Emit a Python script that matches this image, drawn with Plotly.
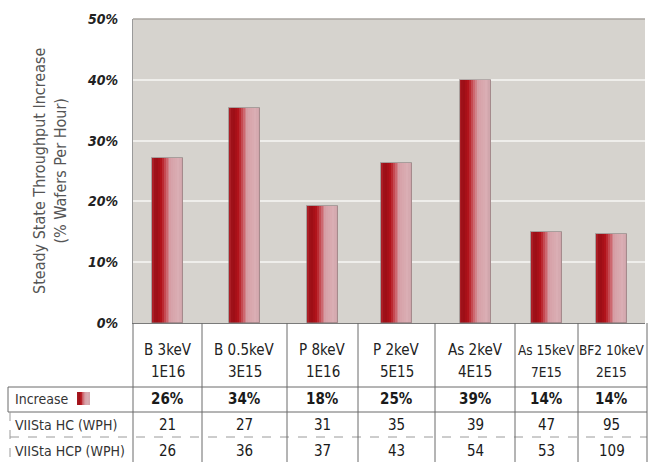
import plotly.graph_objects as go

# ---------------- data ----------------
cat_line1 = ["B 3keV", "B 0.5keV", "P 8keV", "P 2keV", "As 2keV", "As 15keV", "BF2 10keV"]
cat_line2 = ["1E16", "3E15", "1E16", "5E15", "4E15", "7E15", "2E15"]
bar_values = [27.1, 35.3, 19.3, 26.3, 39.9, 15.0, 14.6]
increase_labels = ["26%", "34%", "18%", "25%", "39%", "14%", "14%"]
hc_wph = [21, 27, 31, 35, 39, 47, 95]
hcp_wph = [26, 36, 37, 43, 54, 53, 109]
y_ticks = [0, 10, 20, 30, 40, 50]
y_tick_labels = ["0%", "10%", "20%", "30%", "40%", "50%"]
row_labels = ["Increase", "VIISta HC (WPH)", "VIISta HCP (WPH)"]

# ---------------- layout constants ----------------
W, H = 650, 462
L, R, T, B = 133, 5, 19, 139
PW = W - L - R
PH = H - T - B
col_widths = [69, 85, 71, 77, 80, 63, 67]
header_sizes = [15, 15, 15, 15, 15, 13.5, 13.5]
edges = [0]
for w in col_widths:
    edges.append(edges[-1] + w)
centers = [(edges[i] + edges[i + 1]) / 2 for i in range(len(col_widths))]
BAR_W = 31
FONT = "DejaVu Sans Condensed, Liberation Sans Narrow, Roboto, sans-serif"

def px(xp):
    return (xp - L) / PW

def py(yp):
    return (H - B - yp) / PH

grad_stops = [
    (0.00, (178, 36, 44)),
    (0.12, (152, 12, 20)),
    (0.30, (180, 20, 28)),
    (0.45, (204, 96, 104)),
    (0.60, (214, 160, 167)),
    (0.85, (218, 174, 180)),
    (1.00, (206, 164, 170)),
]

def grad_color(f):
    for (f0, c0), (f1, c1) in zip(grad_stops[:-1], grad_stops[1:]):
        if f0 <= f <= f1:
            t = (f - f0) / (f1 - f0) if f1 > f0 else 0
            c = [round(a + (b - a) * t) for a, b in zip(c0, c1)]
            return "rgb(%d,%d,%d)" % tuple(c)
    return "rgb(%d,%d,%d)" % grad_stops[-1][1]

fig = go.Figure()
N = 16
sw = BAR_W / N
for i in range(N):
    w = sw if i == N - 1 else sw * 1.6
    fig.add_trace(go.Bar(
        x=centers, y=bar_values, width=w,
        offset=-BAR_W / 2 + i * sw,
        marker=dict(color=grad_color((i + 0.5) / N), line=dict(width=0)),
        hoverinfo="skip", showlegend=False,
    ))
fig.add_trace(go.Bar(
    x=centers, y=bar_values, width=BAR_W, offset=-BAR_W / 2,
    marker=dict(color="rgba(0,0,0,0)", line=dict(width=1, color="rgba(130,115,115,0.55)")),
    showlegend=False,
))

shapes = []
LC = "#6a6a6a"
# table horizontal lines
shapes.append(dict(type="line", xref="paper", yref="paper", x0=px(8), x1=px(647), y0=py(387), y1=py(387), line=dict(color=LC, width=1)))
shapes.append(dict(type="line", xref="paper", yref="paper", x0=px(8), x1=px(647), y0=py(412), y1=py(412), line=dict(color=LC, width=1)))
shapes.append(dict(type="line", xref="paper", yref="paper", x0=px(10), x1=px(647), y0=py(437), y1=py(437), line=dict(color="#9a9a9a", width=1, dash="dash")))
# vertical column separators
for e in edges:
    xp = L + e * PW / edges[-1]
    if e == edges[-1]:
        xp = 647
    shapes.append(dict(type="line", xref="paper", yref="paper", x0=px(xp), x1=px(xp), y0=py(323), y1=py(462), line=dict(color=LC, width=1)))
# label column left border
shapes.append(dict(type="line", xref="paper", yref="paper", x0=px(8), x1=px(8), y0=py(387), y1=py(412), line=dict(color=LC, width=1)))
shapes.append(dict(type="line", xref="paper", yref="paper", x0=px(10), x1=px(10), y0=py(412), y1=py(462), line=dict(color="#9a9a9a", width=1, dash="dash")))
# swatch in label column
SN = 8
for i in range(SN):
    x0 = 77 + i * 13 / SN
    x1 = x0 + (13 / SN) * (1 if i == SN - 1 else 1.6)
    shapes.append(dict(type="rect", xref="paper", yref="paper", x0=px(x0), x1=px(x1), y0=py(405), y1=py(392),
                       fillcolor=grad_color((i + 0.5) / SN), line=dict(width=0)))
# top border of plot
shapes.append(dict(type="line", xref="paper", yref="paper", x0=0, x1=1, y0=1, y1=1, line=dict(color="#a8a49f", width=1.5)))

def ann(x, y, text, size, color, xanchor="center", bold=False):
    return dict(x=x, y=y, xref="paper", yref="paper", text=("<b>%s</b>" % text) if bold else text,
                showarrow=False, xanchor=xanchor, yanchor="middle",
                font=dict(family=FONT, size=size, color=color))

annotations = []
for i, c in enumerate(centers):
    xc = c / edges[-1]
    annotations.append(ann(xc, py(350), cat_line1[i], header_sizes[i], "#222"))
    annotations.append(ann(xc, py(372), cat_line2[i], header_sizes[i], "#222"))
    annotations.append(ann(xc, py(399), increase_labels[i], 15, "#1a1a1a", bold=True))
    annotations.append(ann(xc, py(425), str(hc_wph[i]), 15, "#1a1a1a"))
    annotations.append(ann(xc, py(451), str(hcp_wph[i]), 15, "#1a1a1a"))
for lab, yy in zip(row_labels, [399, 425, 451]):
    annotations.append(ann(px(13), py(yy), lab, 14, "#333", xanchor="left"))
annotations.append(dict(x=px(50), y=py(171), xref="paper", yref="paper", showarrow=False, textangle=-90,
                        xanchor="center", yanchor="middle",
                        text="Steady State Throughput Increase<br>(% Wafers Per Hour)",
                        font=dict(family=FONT, size=16, color="#555")))

fig.update_layout(
    width=W, height=H, margin=dict(l=L, r=R, t=T, b=B, pad=0),
    paper_bgcolor="white", plot_bgcolor="#d6d3ce",
    barmode="overlay", bargap=0,
    showlegend=False,
    shapes=shapes, annotations=annotations,
    xaxis=dict(range=[0, edges[-1]], showticklabels=False, showgrid=False, zeroline=False,
               showline=True, linecolor="#7a7a7a", linewidth=1, fixedrange=True),
    yaxis=dict(range=[0, 50], tickvals=y_ticks, ticktext=y_tick_labels,
               tickfont=dict(family=FONT, size=14, color="#222", weight="bold", style="italic"),
               showgrid=True, gridcolor="#efeeeb", gridwidth=1.5, zeroline=False,
               showline=True, linecolor="#9a9a9a", linewidth=1, ticks="", ticklabelstandoff=11),
)

fig.write_html("out.html")
